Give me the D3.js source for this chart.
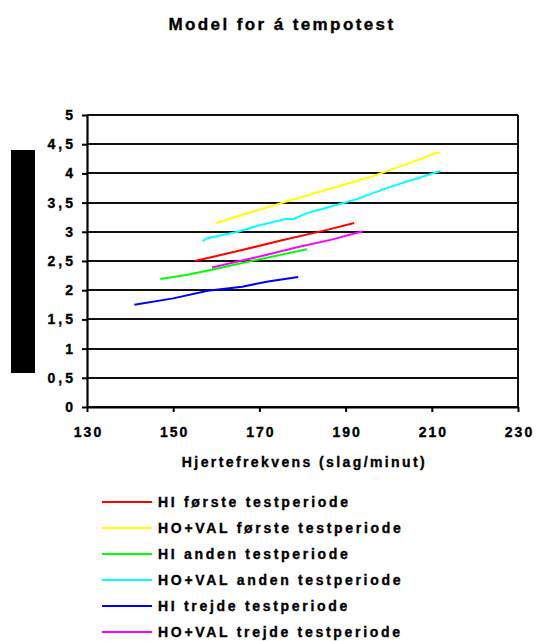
<!DOCTYPE html>
<meta charset="utf-8">
<head>
<style>
body { margin: 0; background: #fff; }
text { font-family: "Liberation Sans", Arial, sans-serif; font-weight: bold; fill: #000; stroke: #000; stroke-width: 0.35px; }
.axis path, .axis line { stroke: #000; }
</style>
</head>
<body>
<script src="https://d3js.org/d3.v7.min.js"></script>
<script>
// series: [heart rate, value]
var names = ["HI første testperiode", "HO+VAL første testperiode", "HI anden testperiode",
             "HO+VAL anden testperiode", "HI trejde testperiode", "HO+VAL trejde testperiode"];
var colors = ["#ff0000", "#ffff00", "#00ff00", "#00ffff", "#0000ff", "#ff00ff"];

var hiFirstX = [155, 165, 175, 185, 192];
var hiFirstY = [2.50, 2.67, 2.85, 3.02, 3.15];
var hovFirstX = [160, 170, 180, 187, 195, 205, 211, 212];
var hovFirstY = [3.15, 3.38, 3.60, 3.75, 3.92, 4.18, 4.35, 4.36];
var hiSecondX = [147, 153, 159, 165, 172, 181];
var hiSecondY = [2.19, 2.26, 2.35, 2.45, 2.56, 2.70];
var hovSecondX = [156.8, 158, 165, 170, 176, 178, 181, 186, 192.6, 200, 212];
var hovSecondY = [2.84, 2.89, 3.00, 3.11, 3.22, 3.22, 3.32, 3.42, 3.56, 3.76, 4.04];
var hiThirdX = [141, 150, 158, 166, 172, 179];
var hiThirdY = [1.75, 1.86, 1.99, 2.06, 2.15, 2.225];
var hovThirdX = [159, 165, 172, 179, 187, 194];
var hovThirdY = [2.39, 2.49, 2.61, 2.74, 2.87, 3.01];

var xTicks = [130, 150, 170, 190, 210, 230];
var yTicks = [0, 0.5, 1, 1.5, 2, 2.5, 3, 3.5, 4, 4.5, 5];

var seriesX = [hiFirstX, hovFirstX, hiSecondX, hovSecondX, hiThirdX, hovThirdX];
var seriesY = [hiFirstY, hovFirstY, hiSecondY, hovSecondY, hiThirdY, hovThirdY];

var W = 536, H = 641;
var margin = { top: 115, right: 18, bottom: 234, left: 87 },
    width = W - margin.left - margin.right,
    height = H - margin.top - margin.bottom;

var svg = d3.select("body").append("svg")
    .attr("width", W)
    .attr("height", H);

// title
svg.append("text")
    .attr("x", 282)
    .attr("y", 30)
    .attr("text-anchor", "middle")
    .style("font-size", "17px")
    .style("letter-spacing", "2.4px")
    .text("Model for á tempotest");

// black block where the y title sits
svg.append("rect")
    .attr("x", 11).attr("y", 150)
    .attr("width", 24).attr("height", 223)
    .attr("fill", "#000");

var g = svg.append("g")
    .attr("transform", "translate(" + margin.left + "," + margin.top + ")");

var x = d3.scaleLinear().domain([130, 230]).range([0, width]);
var y = d3.scaleLinear().domain([0, 5]).range([height, 0]);

// horizontal gridlines
g.selectAll(".grid")
    .data(yTicks)
    .enter().append("line")
    .attr("x1", 0).attr("x2", width)
    .attr("y1", function(d) { return Math.round(y(d)); })
    .attr("y2", function(d) { return Math.round(y(d)); })
    .attr("stroke", "#111")
    .attr("stroke-width", 2);

// right border
g.append("line")
    .attr("x1", Math.round(width)).attr("x2", Math.round(width))
    .attr("y1", 0).attr("y2", height)
    .attr("stroke", "#111").attr("stroke-width", 2);

// x axis
var xAxis = g.append("g")
    .attr("class", "axis")
    .attr("transform", "translate(0," + height + ")")
    .call(d3.axisBottom(x).tickValues(xTicks).tickSize(5).tickSizeOuter(0));
xAxis.select(".domain").attr("stroke-width", 2.2);
xAxis.selectAll("line").attr("stroke-width", 2);
xAxis.selectAll("text")
    .attr("y", 20)
    .style("font-size", "14px")
    .style("letter-spacing", "2px")
    .attr("dx", "1px");

// y axis
var yAxis = g.append("g")
    .attr("class", "axis")
    .call(d3.axisLeft(y).tickValues(yTicks).tickSize(5).tickSizeOuter(0)
        .tickFormat(function(d) { return String(d).replace(".", ","); }));
yAxis.select(".domain").attr("stroke-width", 2.2);
yAxis.selectAll("line").attr("stroke-width", 2);
yAxis.selectAll("text")
    .attr("x", -11)
    .style("font-size", "14px")
    .style("letter-spacing", "3px");

// x axis title
svg.append("text")
    .attr("x", margin.left + width / 2 + 2)
    .attr("y", 467)
    .attr("text-anchor", "middle")
    .style("font-size", "14px")
    .style("letter-spacing", "2.4px")
    .text("Hjertefrekvens (slag/minut)");

// lines
var line = d3.line()
    .x(function(d) { return x(d[0]); })
    .y(function(d) { return y(d[1]); });

seriesX.forEach(function(xs, i) {
    var pts = xs.map(function(v, j) { return [v, seriesY[i][j]]; });
    g.append("path")
        .datum(pts)
        .attr("fill", "none")
        .attr("stroke", colors[i])
        .attr("stroke-width", 2)
        .attr("d", line);
});

// legend
var leg = svg.append("g");
names.forEach(function(n, i) {
    var ly = 502 + i * 26;
    leg.append("line")
        .attr("x1", 102).attr("x2", 152)
        .attr("y1", ly).attr("y2", ly)
        .attr("stroke", colors[i]).attr("stroke-width", 2);
    leg.append("text")
        .attr("x", 158)
        .attr("y", ly + 5)
        .style("font-size", "14px")
        .style("letter-spacing", "2.7px")
        .text(n);
});
</script>
</body>
